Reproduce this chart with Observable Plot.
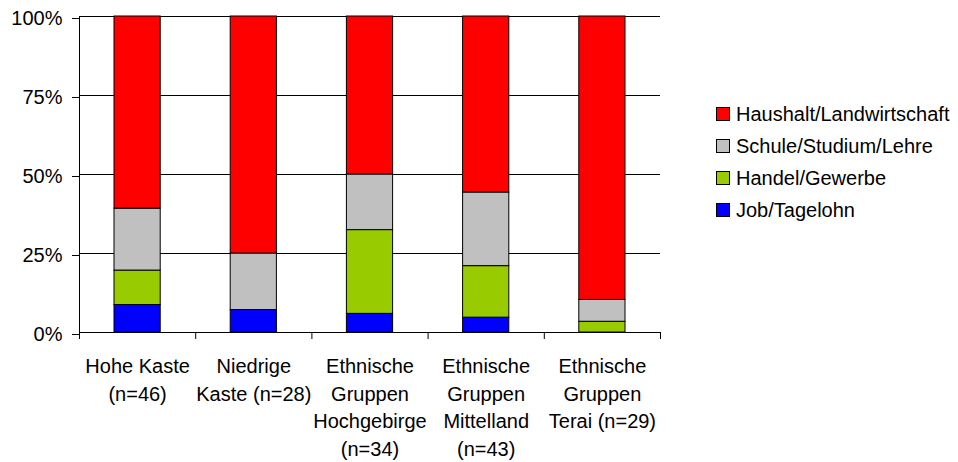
<!DOCTYPE html>
<html>
<head>
<meta charset="utf-8">
<script src="https://cdn.jsdelivr.net/npm/d3@7"></script>
<script src="https://cdn.jsdelivr.net/npm/@observablehq/plot@0.6"></script>
<style>
  html, body { margin: 0; padding: 0; background: #fff; }
  #wrap { position: relative; width: 958px; height: 462px; font-family: "Liberation Sans", Arial, sans-serif; color: #000; }
  #legend { position: absolute; left: 716px; top: 98px; font-size: 20px; }
  .row { height: 32px; display: flex; align-items: center; white-space: nowrap; }
  .sw { width: 12px; height: 12px; border: 1px solid #000; margin-right: 6px; box-sizing: content-box; }
</style>
</head>
<body>
<div id="wrap"><div id="chart"></div><div id="legend"></div></div>
<script>
// Categories (x axis labels)
const categories = [
  "Hohe Kaste\n(n=46)",
  "Niedrige\nKaste (n=28)",
  "Ethnische\nGruppen\nHochgebirge\n(n=34)",
  "Ethnische\nGruppen\nMittelland\n(n=43)",
  "Ethnische\nGruppen\nTerai (n=29)"
];
// Series (percent), stacked bottom to top
const seriesNames = ["Job/Tagelohn", "Handel/Gewerbe", "Schule/Studium/Lehre", "Haushalt/Landwirtschaft"];
const seriesColors = ["#0000FF", "#99CC00", "#C0C0C0", "#FF0000"];
const job      = [8.7, 7.1, 5.9, 4.7, 0];
const handel   = [10.9, 0, 26.5, 16.3, 3.4];
const schule   = [19.6, 17.9, 17.6, 23.3, 6.9];
const haushalt = [60.8, 75.0, 50.0, 55.7, 89.7];
const yTicks = [0, 25, 50, 75, 100];

const seriesValues = [job, handel, schule, haushalt];
const rows = [];
categories.forEach((c, i) => {
  let base = 0;
  seriesValues.forEach((vals, s) => {
    const v = vals[i];
    if (v > 0) rows.push({i, series: seriesNames[s], y1: base, y2: base + v});
    base += v;
  });
});

const plot = Plot.plot({
  width: 958,
  height: 462,
  marginLeft: 79,
  marginRight: 298,
  marginTop: 16,
  marginBottom: 130,
  style: {fontFamily: '"Liberation Sans", Arial, sans-serif', fontSize: "20px", color: "#000", background: "#fff", overflow: "visible"},
  x: {domain: [0, categories.length]},
  y: {domain: [0, 100]},
  color: {domain: seriesNames, range: seriesColors},
  marks: [
    Plot.gridY({ticks: yTicks.slice(1), stroke: "#000", strokeOpacity: 1, strokeWidth: 1}),
    Plot.rectY(rows, {x1: d => d.i, x2: d => d.i + 1, y1: "y1", y2: "y2", fill: "series", stroke: "#000", strokeWidth: 1, insetLeft: 35, insetRight: 35}),
    Plot.ruleY([0], {stroke: "#000"}),
    Plot.ruleX([0], {stroke: "#000"}),
    Plot.axisY({ticks: yTicks, tickFormat: d => d + "%", tickSize: 7, tickPadding: 10, fontSize: 20, dy: 2}),
    Plot.axisX({ticks: d3.range(categories.length + 1), tickFormat: () => "", tickSize: 7}),
    Plot.axisX({ticks: categories.map((c, i) => i + 0.5), tickFormat: v => categories[Math.floor(v)], tickSize: 0, tickPadding: 21, fontSize: 20, lineHeight: 1.375})
  ]
});
document.getElementById("chart").appendChild(plot);

const legend = document.getElementById("legend");
const order = [3, 2, 1, 0];
order.forEach(s => {
  const r = document.createElement("div");
  r.className = "row";
  const sw = document.createElement("span");
  sw.className = "sw";
  sw.style.background = seriesColors[s];
  const t = document.createElement("span");
  t.textContent = seriesNames[s];
  r.appendChild(sw); r.appendChild(t);
  legend.appendChild(r);
});
</script>
</body>
</html>
